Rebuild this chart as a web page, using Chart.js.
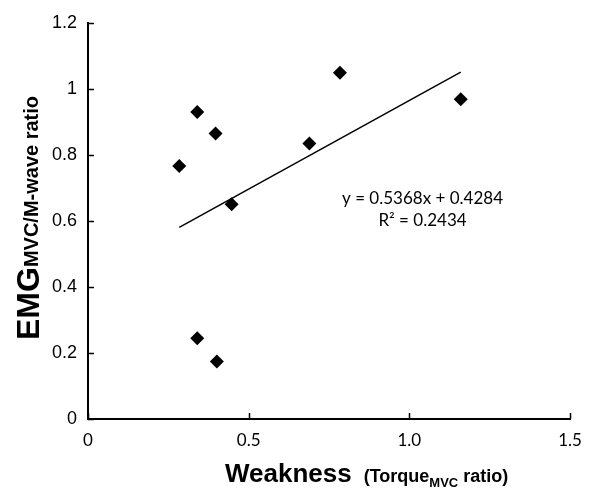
<!DOCTYPE html>
<html>
<head>
<meta charset="utf-8">
<script src="https://cdn.jsdelivr.net/npm/chart.js@4"></script>
<style>
  html, body { margin: 0; padding: 0; background: #fff; }
  #wrap { position: relative; width: 600px; height: 498px; }
</style>
</head>
<body>
<div id="wrap"><canvas id="c" width="600" height="498"></canvas></div>
<script>
// ---- data ----
const weakness = [0.284, 0.340, 0.397, 0.447, 0.340, 0.401, 0.784, 0.689, 1.160];
const emgRatio = [0.767, 0.930, 0.865, 0.651, 0.245, 0.174, 1.049, 0.835, 0.969];
const trendSlope = 0.5368;
const trendIntercept = 0.4284;
const equationLines = ['y = 0.5368x + 0.4284', 'R² = 0.2434'];
const xTickLabels = ['0', '0.5', '1.0', '1.5'];
const yTickLabels = ['0', '0.2', '0.4', '0.6', '0.8', '1', '1.2'];
const xTitleMain = 'Weakness';
const xTitleParts = ['(Torque', 'MVC', ' ratio)'];
const yTitleMain = 'EMG';
const yTitleSub = 'MVC/M-wave ratio';

const points = weakness.map((x, i) => ({ x: x, y: emgRatio[i] }));
const xMin = Math.min(...weakness), xMax = Math.max(...weakness);
const trend = [
  { x: xMin, y: trendSlope * xMin + trendIntercept },
  { x: xMax, y: trendSlope * xMax + trendIntercept }
];

const TICK_LEN = 6;

const innerTicksPlugin = {
  id: 'innerTicks',
  afterDraw(chart) {
    const ctx = chart.ctx;
    const xs = chart.scales.x, ys = chart.scales.y;
    const area = chart.chartArea;
    ctx.save();
    ctx.strokeStyle = '#000';
    ctx.lineWidth = 1.5;
    ctx.beginPath();
    ys.ticks.forEach(t => {
      const py = Math.round(ys.getPixelForValue(t.value)) + 0.5;
      ctx.moveTo(area.left, py);
      ctx.lineTo(area.left + TICK_LEN, py);
    });
    xs.ticks.forEach(t => {
      const px = Math.round(xs.getPixelForValue(t.value)) + 0.5;
      ctx.moveTo(px, area.bottom);
      ctx.lineTo(px, area.bottom - TICK_LEN);
    });
    ctx.stroke();
    ctx.restore();
  }
};

const textPlugin = {
  id: 'texts',
  afterDraw(chart) {
    const ctx = chart.ctx;
    const xs = chart.scales.x, ys = chart.scales.y;
    ctx.save();
    ctx.fillStyle = '#000';
    // equation
    ctx.font = '17px Lato';
    ctx.textAlign = 'center';
    ctx.textBaseline = 'alphabetic';
    const ex = xs.getPixelForValue(1.041);
    const ey = ys.getPixelForValue(0.652);
    ctx.fillText(equationLines[0], ex, ey);
    ctx.fillText(equationLines[1], ex, ey + 22.5);

    // x title
    ctx.textAlign = 'left';
    let x = 225, base = 482;
    ctx.font = 'bold 26px "Liberation Sans"';
    ctx.fillText(xTitleMain, x, base);
    x += ctx.measureText(xTitleMain).width + 12;
    ctx.font = 'bold 18px "Liberation Sans"';
    ctx.fillText(xTitleParts[0], x, base);
    x += ctx.measureText(xTitleParts[0]).width;
    ctx.font = 'bold 13px "Liberation Sans"';
    ctx.fillText(xTitleParts[1], x, base + 5);
    x += ctx.measureText(xTitleParts[1]).width;
    ctx.font = 'bold 18px "Liberation Sans"';
    ctx.fillText(xTitleParts[2], x, base);

    // y title (rotated)
    ctx.translate(39, 340);
    ctx.rotate(-Math.PI / 2);
    ctx.font = 'bold 32px "Liberation Sans"';
    ctx.fillText(yTitleMain, 0, 0);
    const w = ctx.measureText(yTitleMain).width;
    ctx.font = 'bold 20px "Liberation Sans"';
    ctx.fillText(yTitleSub, w, -1.5);
    ctx.restore();
  }
};

new Chart(document.getElementById('c'), {
  type: 'scatter',
  data: {
    datasets: [
      {
        data: points,
        pointStyle: 'rectRot',
        pointRadius: 7,
        pointHoverRadius: 7,
        backgroundColor: '#000',
        borderColor: '#000',
        borderWidth: 0,
        order: 0
      },
      {
        data: trend,
        showLine: true,
        pointRadius: 0,
        borderColor: '#000',
        borderWidth: 1.5,
        order: 1
      }
    ]
  },
  options: {
    responsive: false,
    animation: false,
    devicePixelRatio: 1,
    layout: { padding: { left: 0, right: 30, top: 23, bottom: 0 } },
    plugins: { legend: { display: false }, tooltip: { enabled: false } },
    scales: {
      x: {
        type: 'linear',
        min: 0, max: 1.5,
        afterFit(s) { s.height = 79; },
        grid: { display: true, drawOnChartArea: false, drawTicks: false, tickLength: 0 },
        border: { display: true, color: '#000', width: 2 },
        ticks: {
          stepSize: 0.5,
          padding: 11,
          color: '#000',
          font: { family: 'Lato', size: 17 },
          maxRotation: 0,
          callback: (v, i) => xTickLabels[i]
        }
      },
      y: {
        type: 'linear',
        min: 0, max: 1.2,
        afterFit(s) { s.width = 88; },
        grid: { display: true, drawOnChartArea: false, drawTicks: false, tickLength: 0 },
        border: { display: true, color: '#000', width: 2 },
        ticks: {
          stepSize: 0.2,
          padding: 11,
          color: '#000',
          font: { family: 'Liberation Sans', size: 18 },
          callback: (v, i) => yTickLabels[i]
        }
      }
    }
  },
  plugins: [innerTicksPlugin, textPlugin]
});
</script>
</body>
</html>
